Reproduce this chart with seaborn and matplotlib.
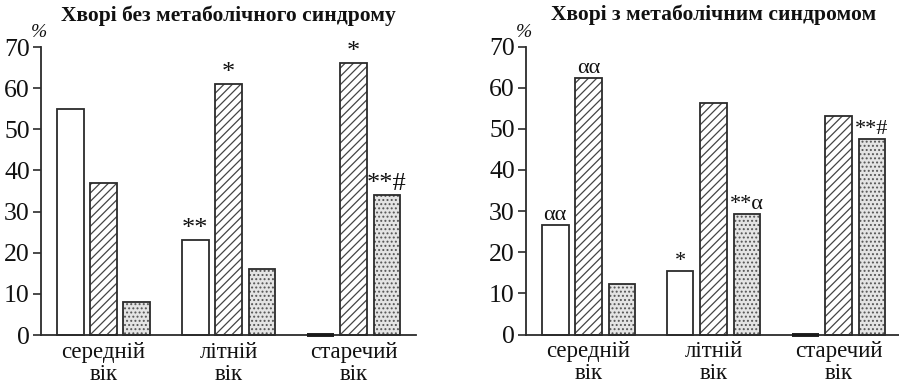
import matplotlib
matplotlib.use("Agg")
import matplotlib.pyplot as plt
import seaborn as sns
import pandas as pd

# Age groups shown on the x axis
age_groups = ["середній\nвік", "літній\nвік", "старечий\nвік"]
series_names = ["I", "II", "III"]

# Patients without metabolic syndrome, % per series
no_ms_1 = [55, 23, 0]
no_ms_2 = [37, 61, 66]
no_ms_3 = [8, 16, 34]

# Patients with metabolic syndrome, % per series
ms_1 = [26.5, 15.4, 0]
ms_2 = [62.3, 56.2, 53.1]
ms_3 = [12.3, 29.2, 47.4]

# Significance marks above bars: (series index, group index, label)
no_ms_marks = [(0, 1, "**"), (1, 1, "*"), (1, 2, "*"), (2, 2, "**#")]
ms_marks = [(0, 0, "αα"), (1, 0, "αα"), (0, 1, "*"), (2, 1, "**α"), (2, 2, "**#")]

titles = ["Хворі без метаболічного синдрому", "Хворі з метаболічним синдромом"]
y_ticks = [0, 10, 20, 30, 40, 50, 60, 70]


def make_frame(s1, s2, s3):
    rows = []
    for name, vals in zip(series_names, (s1, s2, s3)):
        for g, v in zip(age_groups, vals):
            rows.append({"group": g, "series": name, "value": v})
    return pd.DataFrame(rows)


sns.set_theme(style="white")
plt.rcParams["font.family"] = ["Liberation Serif", "DejaVu Serif"]
plt.rcParams["hatch.linewidth"] = 0.9

EDGE = "#2b2b2b"
fills = {"I": ("white", None, EDGE), "II": ("white", "////", "#444444"),
         "III": ("#e4e4e4", "....", "#555555")}

fig = plt.figure(figsize=(8.99, 3.83), dpi=100)
W, H = 899, 383
ax_left = fig.add_axes([41 / W, 1 - 335 / H, 375 / W, 288 / H])
ax_right = fig.add_axes([526 / W, 1 - 334.5 / H, 375 / W, 288 / H])

panels = [
    (ax_left, make_frame(no_ms_1, no_ms_2, no_ms_3), no_ms_marks, titles[0], 19),
    (ax_right, make_frame(ms_1, ms_2, ms_3), ms_marks, titles[1], 16),
]

for ax, df, marks, title, mark_size in panels:
    # textured fill layer
    sns.barplot(data=df, x="group", y="value", hue="series", order=age_groups,
                hue_order=series_names, gap=0.2, legend=False, ax=ax,
                linewidth=0, errorbar=None)
    for name, cont in zip(series_names, ax.containers):
        fc, hatch, hc = fills[name]
        for bar in cont:
            bar.set_facecolor(fc)
            bar.set_edgecolor(hc)
            bar.set_linewidth(0)
            if hatch:
                bar.set_hatch(hatch)
    fill_containers = list(ax.containers)
    # outline layer
    sns.barplot(data=df, x="group", y="value", hue="series", order=age_groups,
                hue_order=series_names, gap=0.2, legend=False, ax=ax,
                fill=False, errorbar=None)
    for cont in ax.containers[len(fill_containers):]:
        for bar in cont:
            bar.set_edgecolor(EDGE)
            bar.set_linewidth(1.3)
            bar.set_clip_on(False)

    # zero-valued bars show as a heavy stroke on the baseline
    for cont in fill_containers:
        for bar in cont:
            if bar.get_height() == 0:
                ax.plot([bar.get_x(), bar.get_x() + bar.get_width()], [0, 0],
                        color="#1a1a1a", lw=2.8, solid_capstyle="butt",
                        clip_on=False, zorder=5)

    for s_idx, g_idx, label in marks:
        bar = fill_containers[s_idx][g_idx]
        xc = bar.get_x() + bar.get_width() / 2
        ax.annotate(label, (xc, bar.get_height()), xytext=(0, 0),
                    textcoords="offset points", ha="center", va="bottom",
                    fontsize=mark_size, color="#111111")

    ax.set_xlim(-0.5, 2.5)
    ax.set_ylim(0, 70)
    ax.set_yticks(y_ticks)
    ax.set_xlabel("")
    ax.set_ylabel("")
    ax.set_xticks(range(len(age_groups)))
    ax.set_xticklabels(age_groups, fontsize=16.5, linespacing=1.05)
    ax.set_xticks([0.5, 1.5, 2.5], minor=True)
    ax.tick_params(axis="x", which="major", length=0, pad=5, labelcolor="#111111")
    ax.tick_params(axis="x", which="minor", direction="inout", length=11,
                   width=1.2, color=EDGE)
    ax.tick_params(axis="y", which="major", direction="out", length=6,
                   width=1.2, color=EDGE, pad=2, labelsize=18.5, labelcolor="#111111")
    ax.tick_params(left=True, bottom=True)
    for side in ("top", "right"):
        ax.spines[side].set_visible(False)
    for side in ("left", "bottom"):
        ax.spines[side].set_color(EDGE)
        ax.spines[side].set_linewidth(1.3)
    ax.spines["bottom"].set_clip_on(False)
    ax.set_title(title, fontsize=15.5, fontweight="bold", pad=19, color="#111111")
    ax.text(-0.005, 73.5, "%", transform=ax.get_yaxis_transform(), ha="center",
            va="center", fontsize=14, style="italic", color="#111111")

fig.savefig("out.png", dpi=100)
